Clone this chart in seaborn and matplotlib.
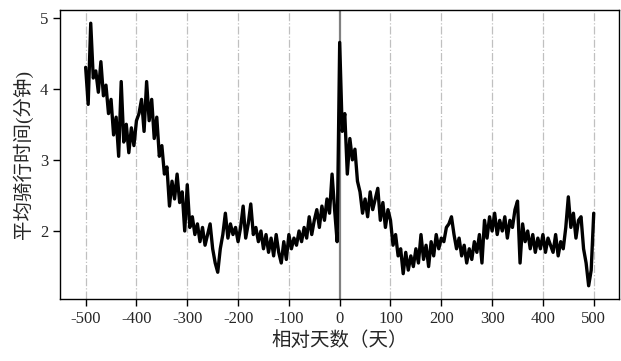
import pandas as pd
import matplotlib
matplotlib.use("Agg")
import matplotlib.pyplot as plt
import seaborn as sns

sns.set_theme(style="ticks")
plt.rcParams['font.family'] = ['Liberation Serif', 'Noto Sans CJK SC']
plt.rcParams['axes.unicode_minus'] = False

# relative day, 5-day steps
days = list(range(-500, 505, 5))

ride_before = [
    4.30, 3.78, 4.92, 4.15, 4.25, 3.95, 4.38, 3.90, 4.05, 3.65,
    3.85, 3.35, 3.60, 3.05, 4.10, 3.25, 3.50, 3.10, 3.45, 3.20,
    3.55, 3.65, 3.85, 3.40, 4.10, 3.55, 3.85, 3.30, 3.60, 3.05,
    3.20, 2.80, 2.90, 2.35, 2.70, 2.45, 2.80, 2.40, 2.55, 2.00,
    2.65, 2.05, 2.20, 1.95, 2.10, 1.85, 2.05, 1.80, 1.95, 2.10,
    1.75, 1.55, 1.42, 1.75, 1.95, 2.25, 1.90, 2.10, 1.95, 2.05,
    1.85, 2.05, 2.35, 1.90, 2.10, 2.38, 1.95, 2.05, 1.85, 2.00,
    1.75, 1.95, 1.70, 1.90, 1.65, 1.95, 1.70, 1.55, 1.85, 1.60,
    1.95, 1.75, 1.90, 1.80, 2.00, 1.85, 2.05, 1.90, 2.20, 1.95,
    2.15, 2.30, 2.05, 2.35, 2.15, 2.45, 2.25, 2.80, 2.30, 1.85,
]
ride_day0 = [4.65]
ride_after = [
    3.40, 3.65, 2.80, 3.30, 3.00, 3.15, 2.70, 2.55, 2.25, 2.45,
    2.20, 2.55, 2.30, 2.45, 2.60, 2.15, 2.40, 2.05, 2.30, 2.15,
    1.80, 1.95, 1.65, 1.75, 1.40, 1.70, 1.45, 1.65, 1.50, 1.75,
    1.55, 1.95, 1.60, 1.80, 1.50, 1.85, 1.65, 1.95, 1.75, 1.90,
    1.85, 2.05, 2.10, 2.20, 1.95, 1.75, 1.90, 1.65, 1.80, 1.55,
    1.75, 1.60, 1.85, 1.70, 1.95, 1.55, 2.15, 1.90, 2.20, 2.00,
    2.25, 1.95, 2.15, 2.00, 2.20, 1.90, 2.15, 2.05, 2.30, 2.42,
    1.55, 2.10, 1.85, 2.00, 1.75, 1.95, 1.70, 1.90, 1.75, 1.95,
    1.70, 1.90, 1.80, 1.70, 1.95, 1.65, 1.85, 1.75, 2.05, 2.48,
    2.05, 2.25, 1.90, 2.15, 2.20, 1.75, 1.55, 1.23, 1.45, 2.25,
]

df = pd.DataFrame({'day': days, 'ride': ride_before + ride_day0 + ride_after})

fig, ax = plt.subplots(figsize=(6.21, 3.61), dpi=100)
fig.subplots_adjust(left=0.097, right=0.997, top=0.972, bottom=0.172)

ax.set_xticks(range(-500, 501, 100))
ax.set_yticks([2, 3, 4, 5])
for x in range(-500, 501, 100):
    if x != 0:
        ax.axvline(x, color='#c0c0c0', linestyle='-.', linewidth=0.9, zorder=0)
ax.axvline(0, color='#808080', linewidth=1.6, zorder=1)

sns.lineplot(data=df, x='day', y='ride', color='black', linewidth=2.4, ax=ax, zorder=2)

ax.set_xlabel("相对天数（天）", fontsize=14, labelpad=3)
ax.set_ylabel("平均骑行时间(分钟)", fontsize=14, labelpad=5)
ax.tick_params(axis='both', labelsize=12, length=5, width=1, color='black', direction='out')
for s in ax.spines.values():
    s.set_color('black')
    s.set_linewidth(1.0)

plt.savefig("out.png", dpi=100)
plt.close()
